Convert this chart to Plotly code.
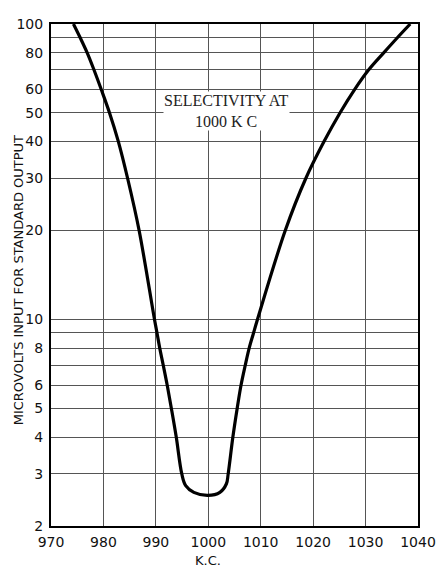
import plotly.graph_objects as go

# Data (K.C. vs microvolts)
freq_kc = [974.28, 975.55, 976.89, 978.19, 979.59, 981.17, 982.85, 984.62, 986.81, 989.74,
           990.22, 990.74, 991.41, 992.16, 992.96, 993.89, 994.95,
           995.69, 997.24, 999.92, 1002.21, 1003.46,
           1003.79, 1004.69, 1005.51, 1006.25, 1007.05, 1007.80, 1008.63, 1009.38,
           1014.68, 1018.59, 1022.07, 1025.11, 1027.90, 1030.60, 1033.49, 1036.10, 1038.52]
microvolts = [100, 90, 80, 70, 60, 50, 40, 30, 20, 10,
              9, 8, 7, 6, 5, 4, 3,
              2.74, 2.60, 2.54, 2.60, 2.78,
              3, 4, 5, 6, 7, 8, 9, 10,
              20, 30, 40, 50, 60, 70, 80, 90, 100]

x_ticks = [970, 980, 990, 1000, 1010, 1020, 1030, 1040]
y_ticks = [2, 3, 4, 5, 6, 8, 10, 20, 30, 40, 50, 60, 80, 100]
y_minor_grid = [7, 9, 70, 90]

fig = go.Figure()
fig.add_trace(go.Scatter(
    x=freq_kc, y=microvolts, mode="lines",
    line=dict(color="black", width=3.2, shape="spline", smoothing=1.0),
    hoverinfo="skip", showlegend=False,
))

grid_col = "#555555"
fig.update_xaxes(
    range=[970, 1040], tickvals=x_ticks, ticktext=[str(v) for v in x_ticks],
    showgrid=True, gridcolor=grid_col, gridwidth=1,
    showline=True, linecolor="black", linewidth=2, mirror=True,
    ticks="", zeroline=False, ticklabelstandoff=2,
    tickfont=dict(family="DejaVu Sans", size=14, color="#111"),
)
fig.update_yaxes(
    type="log", range=[0.30103, 2.0], tickvals=y_ticks, ticktext=[str(v) for v in y_ticks],
    showgrid=True, gridcolor=grid_col, gridwidth=1,
    minor=dict(tickvals=y_minor_grid, showgrid=True, gridcolor=grid_col, gridwidth=1, ticks=""),
    showline=True, linecolor="black", linewidth=2, mirror=True,
    ticks="", zeroline=False, ticklabelstandoff=3,
    tickfont=dict(family="DejaVu Sans", size=14, color="#111"),
)

fig.add_annotation(
    x=1003.4, y=1.705, xref="x", yref="y",
    text="SELECTIVITY AT<br>1000 K C", showarrow=False,
    font=dict(family="Liberation Serif", size=16, color="#222"),
    bgcolor="white", borderpad=0,
)
fig.add_annotation(
    x=1000, y=0, xref="x", yref="paper", yanchor="middle", yshift=-34,
    text="K.C.", showarrow=False,
    font=dict(family="DejaVu Sans", size=13, color="#111"),
)
fig.add_annotation(
    x=-0.0878, y=0.489, xref="paper", yref="paper", textangle=-90,
    xanchor="center", yanchor="middle",
    text="MICROVOLTS INPUT FOR STANDARD OUTPUT", showarrow=False,
    font=dict(family="DejaVu Sans", size=13, color="#111"),
)

# page body has an 8px default margin, so size/offset accordingly
fig.update_layout(
    width=436, height=559,
    margin=dict(l=39, r=21, t=8, b=41),
    paper_bgcolor="white", plot_bgcolor="white",
)

fig.write_html("out.html")
